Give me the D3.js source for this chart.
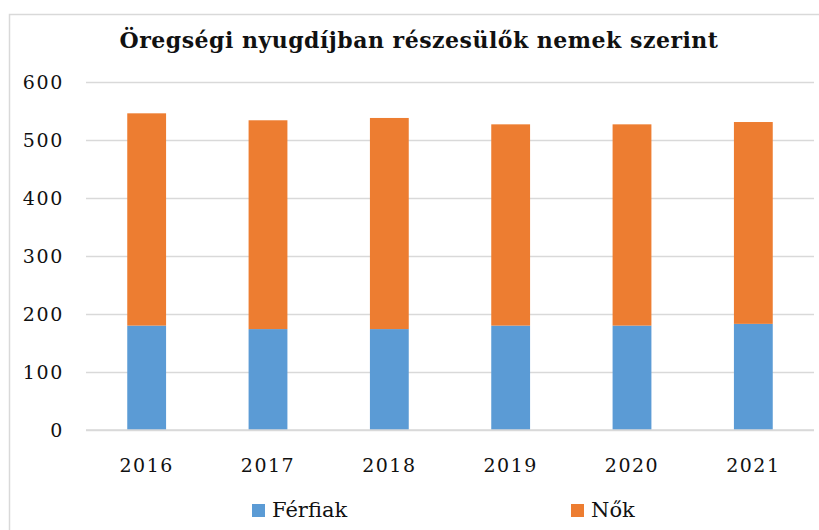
<!DOCTYPE html>
<html>
<head>
<meta charset="utf-8">
<script src="https://cdn.jsdelivr.net/npm/d3@7"></script>
<style>
  html, body { margin: 0; padding: 0; background: #fff; }
  svg { display: block; }
</style>
</head>
<body>
<script>
// Öregségi nyugdíjban részesülők (ezer fő), nemenként
const years = ["2016", "2017", "2018", "2019", "2020", "2021"];
const ferfiak = [180, 174, 174, 180, 180, 183];
const nok = [366, 360, 364, 347, 347, 348];
const yTicks = [0, 100, 200, 300, 400, 500, 600];
const seriesNames = ["Férfiak", "Nők"];
const seriesColors = ["#5B9BD5", "#ED7D31"];

const W = 819, H = 530;
const svg = d3.select("body").append("svg").attr("width", W).attr("height", H);

// outer chart frame
svg.append("rect")
  .attr("x", 9.5).attr("y", 14.5)
  .attr("width", W + 10).attr("height", H + 10)
  .attr("fill", "#fff").attr("stroke", "#D9D9D9").attr("stroke-width", 1.5);

const x = d3.scaleBand().domain(years).range([86, 814]).paddingInner(0.68).paddingOuter(0.34);
const y = d3.scaleLinear().domain([0, 600]).range([430, 82]);

// gridlines
svg.append("g")
  .attr("transform", "translate(86,0)")
  .call(d3.axisLeft(y).tickValues(yTicks).tickSize(-728).tickFormat(""))
  .call(g => g.select(".domain").remove())
  .call(g => g.selectAll("line").attr("stroke", "#D9D9D9").attr("stroke-width", 1.5));

// y tick labels
svg.append("g")
  .attr("transform", "translate(64,0)")
  .call(d3.axisLeft(y).tickValues(yTicks).tickSize(0).tickPadding(0))
  .call(g => g.select(".domain").remove())
  .call(g => g.selectAll("text")
    .attr("font-family", "'DejaVu Serif', serif")
    .attr("font-size", 19)
    .attr("letter-spacing", 1.7)
    .attr("fill", "#111")
    .attr("dy", "0.36em"));

// stacked bars
const rows = years.map((yr, i) => ({ year: yr, "Férfiak": ferfiak[i], "Nők": nok[i] }));
const stacked = d3.stack().keys(seriesNames)(rows);

svg.append("g").selectAll("g")
  .data(stacked)
  .join("g")
  .attr("fill", (d, i) => seriesColors[i])
  .selectAll("rect")
  .data(d => d)
  .join("rect")
  .attr("x", d => x(d.data.year))
  .attr("width", x.bandwidth())
  .attr("y", d => y(d[1]))
  .attr("height", d => y(d[0]) - y(d[1]));

// baseline
svg.append("line")
  .attr("x1", 86).attr("x2", 814)
  .attr("y1", y(0)).attr("y2", y(0))
  .attr("stroke", "#D9D9D9").attr("stroke-width", 1.5);

// x tick labels
svg.append("g")
  .attr("transform", `translate(0,${y(0)})`)
  .call(d3.axisBottom(x).tickSize(0).tickPadding(0))
  .call(g => g.select(".domain").remove())
  .call(g => g.selectAll("text")
    .attr("font-family", "'DejaVu Serif', serif")
    .attr("font-size", 19)
    .attr("letter-spacing", 1.5)
    .attr("fill", "#111")
    .attr("dy", null)
    .attr("y", 42));

// title
svg.append("text")
  .attr("x", 419).attr("y", 48)
  .attr("text-anchor", "middle")
  .attr("font-family", "'DejaVu Serif', serif")
  .attr("font-weight", "bold")
  .attr("font-size", 22)
  .attr("letter-spacing", 0.5)
  .attr("fill", "#111")
  .text("Öregségi nyugdíjban részesülők nemek szerint");

// legend
const legendX = [252, 571];
const legend = svg.append("g").selectAll("g")
  .data(seriesNames)
  .join("g")
  .attr("transform", (d, i) => `translate(${legendX[i]},504)`);
legend.append("rect")
  .attr("width", 13).attr("height", 13)
  .attr("fill", (d, i) => seriesColors[i]);
legend.append("text")
  .attr("x", 20).attr("y", 13)
  .attr("font-family", "'DejaVu Serif', serif")
  .attr("font-size", 21)
  .attr("fill", "#111")
  .text(d => d);
</script>
</body>
</html>
